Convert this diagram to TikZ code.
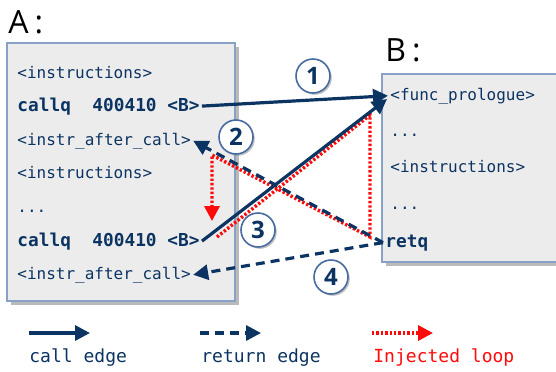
\documentclass[tikz,border=0pt]{standalone}
\usepackage{fontspec}
\setmonofont{DejaVu Sans Mono}
\newfontfamily\titlefont{Open Sans}
\usetikzlibrary{arrows.meta,shadows}
\definecolor{colNavy}{RGB}{12,52,98}
\definecolor{colRed}{RGB}{255,10,10}
\definecolor{colBox}{RGB}{236,236,236}
\definecolor{colFrame}{RGB}{135,162,198}
\definecolor{colRing}{RGB}{72,108,162}
\tikzstyle{codebox}=[draw=colFrame, fill=colBox, line width=0.6pt, drop shadow={shadow xshift=1.8pt, shadow yshift=-1.8pt, fill=black!45, opacity=0.6}]
\tikzstyle{title}=[anchor=base west, inner sep=0pt, font=\titlefont\fontsize{16}{18}\selectfont]
\tikzstyle{instr}=[anchor=base west, inner sep=1pt, text=colNavy, font=\ttfamily\fontsize{8}{9}\selectfont]
\tikzstyle{binstr}=[instr, font=\ttfamily\bfseries\fontsize{8.9}{10}\selectfont]
\tikzstyle{legtext}=[instr, font=\ttfamily\fontsize{9}{10}\selectfont]
\tikzstyle{edge}=[line width=1.6pt, colNavy, -{Triangle[length=7.5pt,width=7.5pt]}]
\tikzstyle{cedge}=[edge]
\tikzstyle{redge}=[edge, dash pattern=on 4.5pt off 3pt]
\tikzstyle{ledge}=[line width=1.7pt, colRed, dash pattern=on 1.2pt off 1pt, -{Triangle[length=7.5pt,width=7.5pt]}]
\tikzstyle{stepnum}=[circle, draw=colRing, fill=white, line width=0.8pt, minimum size=17pt, inner sep=0pt, text=colNavy, font=\titlefont\bfseries\fontsize{12}{12}\selectfont, drop shadow={shadow xshift=0.9pt, shadow yshift=-0.9pt, fill=black!40, opacity=0.6}]

\begin{document}
\begin{tikzpicture}[x=0.5pt, y=-0.5pt]
	\path[use as bounding box, clip] (0,0) rectangle (556,371);

	%%% Boxes
	\path[codebox] (7,43) rectangle (235,301);
	\path[codebox] (382,74) rectangle (566,262);
	\node[title] (tA) at (8,33) {A\kern3pt:};
	\node[title] (tB) at (385,61) {B\kern3pt:};

	%%% Function A
	\node[instr]  (a1) at (15, 78) {<instructions>};
	\node[binstr] (a2) at (15,111) {callq\ \ 400410 <B>};
	\node[instr]  (a3) at (15,145) {<instr\_after\_call>};
	\node[instr]  (a4) at (15,178) {<instructions>};
	\node[instr]  (a5) at (15,212) {...};
	\node[binstr] (a6) at (15,246) {callq\ \ 400410 <B>};
	\node[instr]  (a7) at (15,279) {<instr\_after\_call>};

	%%% Function B
	\node[instr]  (b1) at (388,100) {<func\_prologue>};
	\node[instr]  (b2) at (388,136) {...};
	\node[instr]  (b3) at (388,172) {<instructions>};
	\node[instr]  (b4) at (388,209) {...};
	\node[binstr] (b5) at (383,247) {retq};
	\coordinate (in2) at (387,99);

	%%% Injected loop
	\coordinate (la) at (217,237);
	\coordinate (lb) at (370,115);
	\coordinate (lc) at (370,237);
	\coordinate (ld) at (212,155);
	\coordinate (le) at (212,221);
	\draw[ledge] (la) -- (lb) -- (lc) -- (ld) -- (le);

	%%% Calls and returns
	\draw[cedge] (a2.east) -- (b1.west);
	\draw[cedge] (a6.east) -- (in2);
	\draw[redge] (b5.west) -- (a3.east);
	\draw[redge] (b5.west) -- (a7.east);

	%%% Steps
	\node[stepnum] (n1) at (313, 76) {1};
	\node[stepnum] (n2) at (236,137) {2};
	\node[stepnum] (n3) at (258,230) {3};
	\node[stepnum] (n4) at (331,277) {4};

	%%% Legend
	\coordinate (lc1) at (29,333);  \coordinate (lc2) at (90,333);
	\coordinate (lr1) at (200,333); \coordinate (lr2) at (261,333);
	\coordinate (ll1) at (372,333); \coordinate (ll2) at (433,333);
	\draw[cedge] (lc1) -- (lc2);
	\draw[redge] (lr1) -- (lr2);
	\draw[ledge] (ll1) -- (ll2);
	\node[legtext] (lcall) at (27,362) {call edge};
	\node[legtext] (lret)  at (199,362) {return edge};
	\node[legtext, text=colRed] (lloop) at (371,362) {Injected loop};
\end{tikzpicture}
\end{document}
